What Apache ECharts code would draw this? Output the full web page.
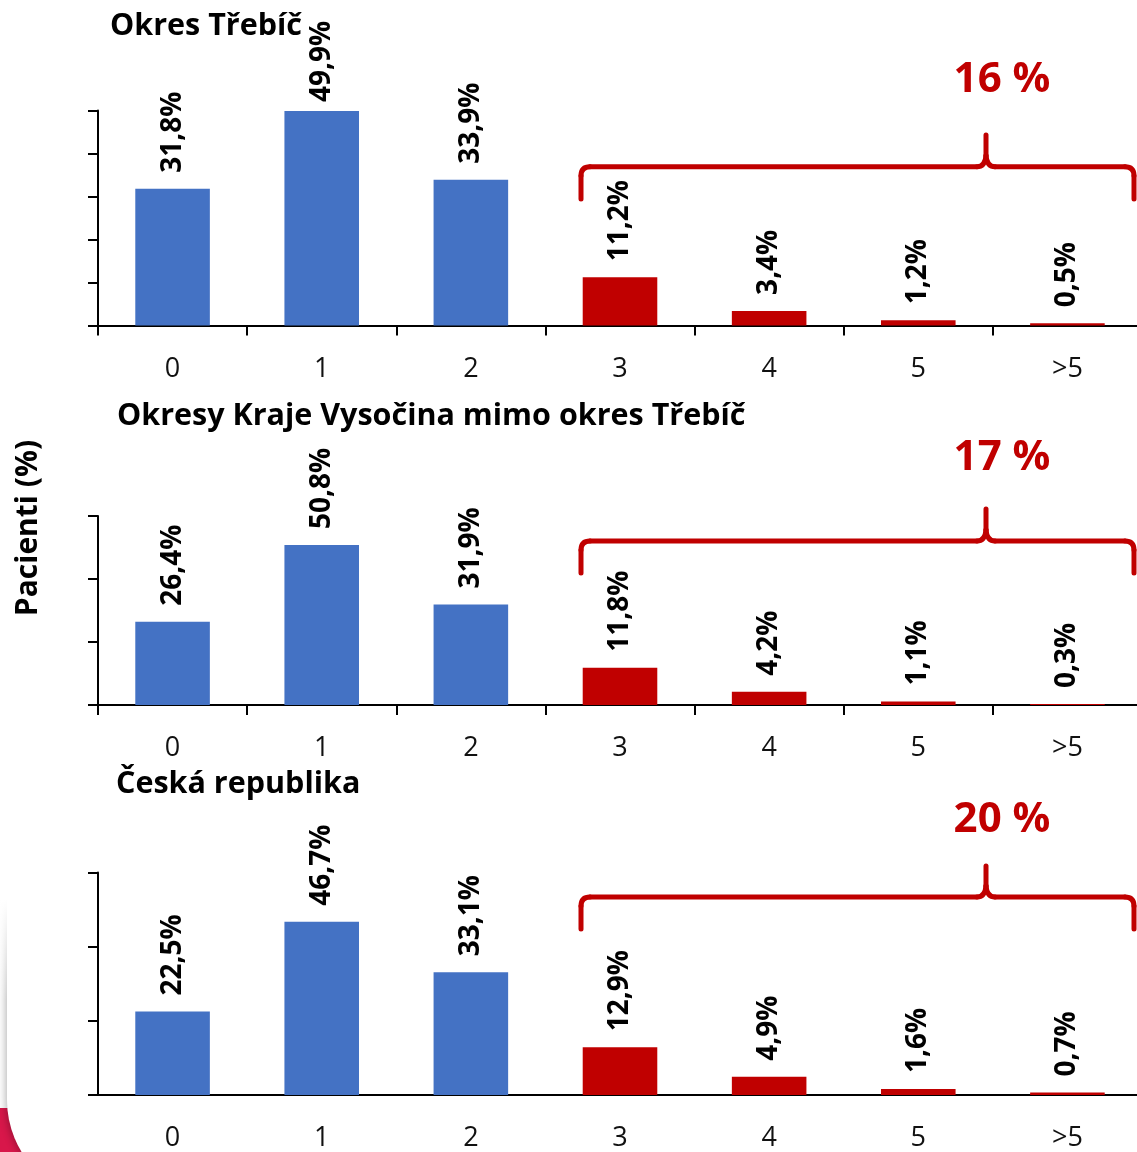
<!DOCTYPE html>
<html>
<head>
<meta charset="utf-8">
<script src="https://cdn.jsdelivr.net/npm/echarts@6/dist/echarts.min.js"></script>
<style>
  html, body { margin: 0; padding: 0; background: #fff; overflow: hidden; }
  /* plot area runs a few pixels past the right edge of the page */
  #chart { width: 1145px; height: 1152px; }
</style>
</head>
<body>
<div id="chart"></div>
<script>
// Počet komorbidit u pacientů – podíl pacientů (%)
const categories = ['0', '1', '2', '3', '4', '5', '>5'];
const panelTitles = ['Okres Třebíč', 'Okresy Kraje Vysočina mimo okres Třebíč', 'Česká republika'];
const valuesTrebic   = [31.8, 49.9, 33.9, 11.2, 3.4, 1.2, 0.5];
const valuesVysocina = [26.4, 50.8, 31.9, 11.8, 4.2, 1.1, 0.3];
const valuesCR       = [22.5, 46.7, 33.1, 12.9, 4.9, 1.6, 0.7];
const groupTotals = [16, 17, 20];      // souhrn za kategorie 3 a více
const highlightFrom = 3;               // index první zvýrazněné kategorie
const axisMax = [50, 60, 60];
const axisInterval = [10, 20, 20];
const yAxisName = 'Pacienti (%)';

const panelValues = [valuesTrebic, valuesVysocina, valuesCR];

const BLUE = '#4472C4';
const RED = '#C00000';
const FONT = '"Open Sans", "Noto Sans", sans-serif';

const GRID_LEFT = 98;
const GRID_WIDTH = 1044;

const layout = [
  { top: 110.5, height: 215, titleX: 110, titleY: 26,  braceYt: 135, braceYh: 166.7, braceYb: 199, totalY: 80,  xTicks: true,  labelDist: { 1: 9 } },
  { top: 516,   height: 189, titleX: 117, titleY: 416, braceYt: 509, braceYh: 541,   braceYb: 573, totalY: 458, xTicks: true,  labelDist: {} },
  { top: 872.5, height: 225.5, titleX: 116, titleY: 784, braceYt: 866, braceYh: 897, braceYb: 929, totalY: 820, xTicks: false, labelDist: {} }
];

const BRACE_X0 = 581, BRACE_XC = 986, BRACE_X1 = 1134, TOTAL_X = 1002;

function fmt(v) { return v.toFixed(1).replace('.', ',') + '%'; }

// curly brace built from straight segments and quadratic curves
function braceElements(L) {
  const x0 = BRACE_X0, xc = BRACE_XC, x1 = BRACE_X1;
  const yt = L.braceYt, yh = L.braceYh, yb = L.braceYb, r = 9;
  const st = { stroke: RED, lineWidth: 5, fill: null, lineCap: 'round' };
  const line = (a, b, c, d) => ({ type: 'line', z: 10, silent: true, shape: { x1: a, y1: b, x2: c, y2: d }, style: st });
  const curve = (a, b, cx, cy, c, d) => ({ type: 'bezierCurve', z: 10, silent: true,
    shape: { x1: a, y1: b, cpx1: cx, cpy1: cy, x2: c, y2: d }, style: st });
  return [
    line(x0, yb, x0, yh + r),
    curve(x0, yh + r, x0, yh, x0 + r, yh),
    line(x0 + r, yh, xc - 9, yh),
    curve(xc - 9, yh, xc - 1, yh, xc, yh - 11),
    line(xc, yh - 11, xc, yt),
    curve(xc, yh - 11, xc + 1, yh, xc + 9, yh),
    line(xc + 9, yh, x1 - r, yh),
    curve(x1 - r, yh, x1, yh, x1, yh + r),
    line(x1, yh + r, x1, yb)
  ];
}

const grids = [], xAxes = [], yAxes = [], series = [], graphics = [];

// decorative slide corner
graphics.push({ type: 'rect', z: -10, silent: true, shape: { x: 0, y: 1108, width: 60, height: 44 }, style: { fill: '#D8174A' } });
graphics.push({ type: 'rect', z: -9, silent: true,
  shape: { x: 7, y: -200, width: 1300, height: 1400, r: [0, 0, 0, 100] },
  style: { fill: '#fff', shadowBlur: 9, shadowColor: 'rgba(0,0,0,0.32)', shadowOffsetX: -1 } });
graphics.push({ type: 'rect', z: -8, silent: true, shape: { x: 0, y: 0, width: 7, height: 1000 },
  style: { fill: { type: 'linear', x: 0, y: 0, x2: 0, y2: 1, colorStops: [
    { offset: 0, color: 'rgba(255,255,255,1)' }, { offset: 0.9, color: 'rgba(255,255,255,1)' }, { offset: 1, color: 'rgba(255,255,255,0)' } ] } } });

layout.forEach((L, k) => {
  grids.push({ left: GRID_LEFT, width: GRID_WIDTH, top: L.top, height: L.height });
  xAxes.push({
    type: 'category', gridIndex: k, data: categories,
    axisLine: { lineStyle: { color: '#000', width: 2 } },
    axisTick: { show: L.xTicks, length: 10, lineStyle: { color: '#000', width: 2 } },
    axisLabel: { color: '#111', fontFamily: FONT, fontSize: 27, margin: 30 }
  });
  yAxes.push({
    type: 'value', gridIndex: k, min: 0, max: axisMax[k], interval: axisInterval[k],
    axisLine: { show: true, lineStyle: { color: '#000', width: 2 } },
    axisTick: { show: true, length: 10, lineStyle: { color: '#000', width: 2 } },
    axisLabel: { show: false },
    splitLine: { show: false }
  });
  series.push({
    type: 'bar', xAxisIndex: k, yAxisIndex: k, barWidth: '50%',
    data: panelValues[k].map((v, i) => {
      const item = { value: v, itemStyle: { color: i >= highlightFrom ? RED : BLUE } };
      if (L.labelDist[i] !== undefined) item.label = { distance: L.labelDist[i] };
      return item;
    }),
    label: {
      show: true, position: 'top', rotate: 90, align: 'left', verticalAlign: 'middle',
      distance: 16, color: '#000', fontFamily: FONT, fontWeight: 'bold', fontSize: 28,
      formatter: p => fmt(p.value)
    }
  });
  graphics.push({ type: 'text', z: 10, style: { text: panelTitles[k], x: L.titleX, y: L.titleY,
    textVerticalAlign: 'middle', font: 'bold 30.5px ' + FONT, fill: '#000' } });
  braceElements(L).forEach(e => graphics.push(e));
  graphics.push({ type: 'text', z: 10, style: { text: groupTotals[k] + ' %', x: TOTAL_X, y: L.totalY,
    textAlign: 'center', textVerticalAlign: 'middle', font: 'bold 42px ' + FONT, fill: RED } });
});

graphics.push({ type: 'text', z: 10, x: 28, y: 528, rotation: Math.PI / 2,
  style: { text: yAxisName, x: 0, y: 0, textAlign: 'center', textVerticalAlign: 'middle',
    font: 'bold 30px ' + FONT, fill: '#000' } });

const chart = echarts.init(document.getElementById('chart'), null, { renderer: 'canvas' });
chart.setOption({
  animation: false,
  backgroundColor: '#fff',
  grid: grids, xAxis: xAxes, yAxis: yAxes, series: series,
  graphic: { elements: graphics }
});
</script>
</body>
</html>
